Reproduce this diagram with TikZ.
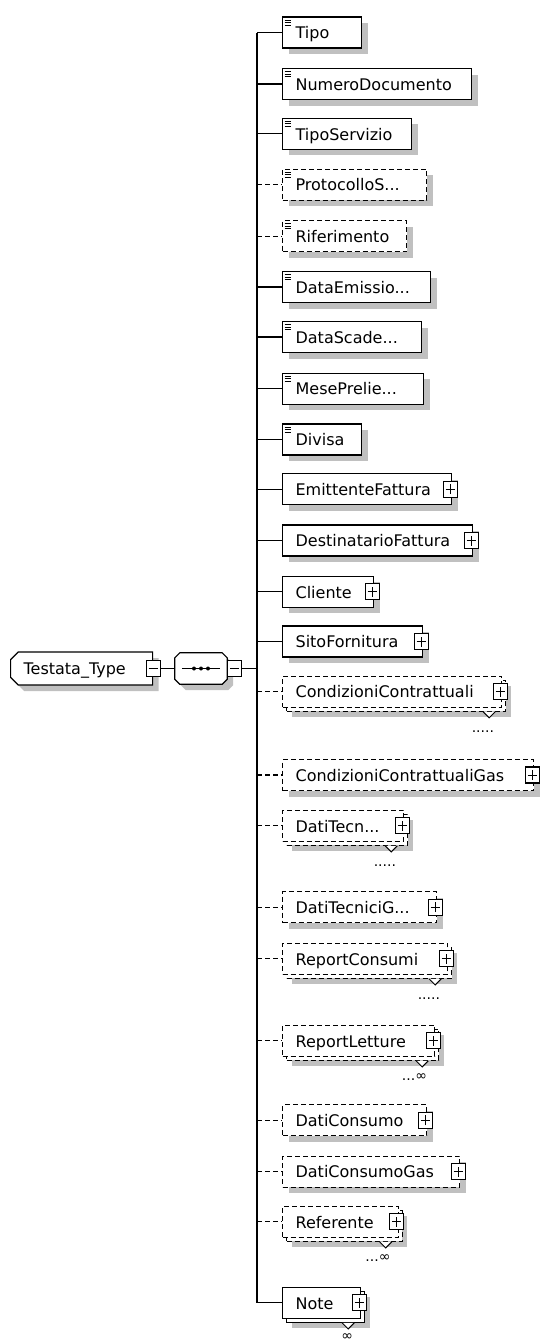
\documentclass[tikz,border=0pt]{standalone}
\usepackage{fontspec}
\setmainfont{DejaVu Sans}
\usepackage{tikz}
\usetikzlibrary{positioning, shapes, shadows}
\definecolor{ombra}{RGB}{192, 192, 192}
\definecolor{bordo}{RGB}{0, 0, 0}
\hyphenpenalty=10000
\tikzset{
    base/.style={draw=bordo, rectangle, fill=white, line width=1.2pt, anchor=west, minimum height=31pt, inner xsep=13pt, inner ysep=0pt, text height=13.5pt, text depth=1pt, align=left, font=\fontsize{16pt}{19pt}\selectfont},
    elem/.style={base, general shadow={fill=ombra, shadow xshift=6pt, shadow yshift=-6pt}},
    elemMulti/.style={base, general shadow={fill=ombra, shadow xshift=9pt, shadow yshift=-10pt}, general shadow={draw=bordo, fill=white, shadow xshift=4pt, shadow yshift=-4pt}},
    opz/.style={dash pattern=on 5pt off 3pt},
    semplice/.style={path picture={\draw [solid, line width=0.9pt, bordo] ([shift={(2,3)}]path picture bounding box.north west) -- ++(6,0) ([shift={(2,5.5)}]path picture bounding box.north west) -- ++(6,0) ([shift={(2,8)}]path picture bounding box.north west) -- ++(6,0);}},
    radice/.style={draw=bordo, chamfered rectangle, chamfered rectangle corners={north west, south west}, chamfered rectangle xsep=4pt, fill=white, line width=1.2pt, anchor=west, minimum height=33pt, inner xsep=9pt, inner ysep=0pt, text width=116pt, text height=13.5pt, text depth=1pt, align=left, font=\fontsize{16pt}{19pt}\selectfont, general shadow={fill=ombra, shadow xshift=6pt, shadow yshift=-6pt}},
    sequenza/.style={rectangle, minimum width=52pt, minimum height=31pt, inner sep=0pt},
    ottagono/.style={draw=bordo, fill=white, line width=1.2pt, general shadow={fill=ombra, shadow xshift=6pt, shadow yshift=-6pt}},
    meno/.style={draw=bordo, rectangle, solid, fill=white, line width=1.2pt, minimum width=14pt, minimum height=16pt, inner sep=0pt,
        path picture={\draw [line width=1pt] ([xshift=-4.5pt]path picture bounding box.center) -- ([xshift=4.5pt]path picture bounding box.center);}},
    piu/.style={draw=bordo, rectangle, solid, fill=white, line width=1.2pt, minimum width=14pt, minimum height=16pt, inner sep=0pt,
        path picture={\draw [line width=1pt] ([xshift=-4.5pt]path picture bounding box.center) -- ([xshift=4.5pt]path picture bounding box.center) ([yshift=-5pt]path picture bounding box.center) -- ([yshift=5pt]path picture bounding box.center);}},
    occ/.style={inner sep=0pt, anchor=base east, font=\fontsize{14pt}{16pt}\selectfont},
    tacca/.style={draw=bordo, fill=white, line width=1pt},
    conn/.style={-, bordo, line width=1.2pt},
}
\begin{document}
\begin{tikzpicture}[x=1pt, y=-1pt]
    \useasboundingbox (0,0) rectangle (541,1344);

    \node [radice] (testata) at (10,668.5) {Testata\_Type};
    \node [meno] (testataMeno) at (testata.east) {};
    \node [sequenza] (seq) at (201,668.5) {};
    \draw [ottagono] ([xshift=5pt]seq.north west) -- ([xshift=-5pt]seq.north east) -- ([yshift=-5pt]seq.north east) -- ([yshift=5pt]seq.south east) -- ([xshift=-5pt]seq.south east) -- ([xshift=5pt]seq.south west) -- ([yshift=5pt]seq.south west) -- ([yshift=-5pt]seq.north west) -- cycle;
    \draw [line width=1pt] ([xshift=7pt]seq.west) -- ([xshift=-7pt]seq.east);
    \fill ([xshift=-7pt]seq.center) circle (2pt);
    \fill (seq.center) circle (2pt);
    \fill ([xshift=7pt]seq.center) circle (2pt);
    \node [meno, anchor=west] (seqMeno) at (seq.east) {};

    \coordinate (alto) at (257,32.5);
    \coordinate (basso) at (257,1302.8);

    \node [elem, semplice, text width=53pt] (tipo) at (282,32.5) {Tipo};
    \node [elem, semplice, text width=163pt] (numeroDoc) at (282,84) {NumeroDocumento};
    \node [elem, semplice, text width=103pt] (tipoServ) at (282,133.8) {TipoServizio};
    \node [elem, semplice, opz, text width=118pt] (protocollo) at (282,184.7) {ProtocolloS...};
    \node [elem, semplice, opz, text width=98pt] (riferimento) at (282,236.2) {Riferimento};
    \node [elem, semplice, text width=122pt] (dataEmis) at (282,287) {DataEmissio...};
    \node [elem, semplice, text width=113pt] (dataScad) at (282,337) {DataScade...};
    \node [elem, semplice, text width=115pt] (mesePrel) at (282,388.7) {MesePrelie...};
    \node [elem, semplice, text width=53pt] (divisa) at (282,439.5) {Divisa};
    \node [elem, text width=143pt] (emittente) at (282,489.2) {EmittenteFattura};
    \node [elem, text width=164pt] (destinatario) at (282,540.5) {DestinatarioFattura};
    \node [elem, text width=65pt] (cliente) at (282,591.8) {Cliente};
    \node [elem, text width=114pt] (sito) at (282,641.5) {SitoFornitura};
    \node [elemMulti, opz, text width=193pt] (condContr) at (282,691.7) {CondizioniContrattuali};
    \node [elem, opz, text width=225pt] (condContrGas) at (282,775) {CondizioniContrattualiGas};
    \node [elemMulti, opz, text width=95pt] (datiTecn) at (282,825.8) {DatiTecn...};
    \node [elem, opz, text width=128pt] (datiTecG) at (282,907.2) {DatiTecniciG...};
    \node [elemMulti, opz, text width=139pt] (reportCons) at (282,958.8) {ReportConsumi};
    \node [elemMulti, opz, text width=126pt] (reportLett) at (282,1040.8) {ReportLetture};
    \node [elem, opz, text width=118pt] (datiCons) at (282,1120.3) {DatiConsumo};
    \node [elem, opz, text width=151pt] (datiConsGas) at (282,1171.7) {DatiConsumoGas};
    \node [elemMulti, opz, text width=89.5pt] (referente) at (282,1221.8) {Referente};
    \node [elemMulti, text width=52pt] (note) at (282,1302.8) {Note};

    \node [piu] (emittentePiu) at ([xshift=-2pt]emittente.east) {};
    \node [piu] (destinatarioPiu) at ([xshift=-2pt]destinatario.east) {};
    \node [piu] (clientePiu) at ([xshift=-2pt]cliente.east) {};
    \node [piu] (sitoPiu) at ([xshift=-2pt]sito.east) {};
    \node [piu] (condContrPiu) at ([xshift=-2pt]condContr.east) {};
    \node [piu] (condContrGasPiu) at ([xshift=-2pt]condContrGas.east) {};
    \node [piu] (datiTecnPiu) at ([xshift=-2pt]datiTecn.east) {};
    \node [piu] (datiTecGPiu) at ([xshift=-2pt]datiTecG.east) {};
    \node [piu] (reportConsPiu) at ([xshift=-2pt]reportCons.east) {};
    \node [piu] (reportLettPiu) at ([xshift=-2pt]reportLett.east) {};
    \node [piu] (datiConsPiu) at ([xshift=-2pt]datiCons.east) {};
    \node [piu] (datiConsGasPiu) at ([xshift=-2pt]datiConsGas.east) {};
    \node [piu] (referentePiu) at ([xshift=-2pt]referente.east) {};
    \node [piu] (notePiu) at ([xshift=-2pt]note.east) {};

    \draw [tacca] ([shift={(-19,4)}]condContr.south east) -- ([shift={(-13,10)}]condContr.south east) -- ([shift={(-7,4)}]condContr.south east);
    \draw [tacca] ([shift={(-19,4)}]datiTecn.south east) -- ([shift={(-13,10)}]datiTecn.south east) -- ([shift={(-7,4)}]datiTecn.south east);
    \draw [tacca] ([shift={(-19,4)}]reportCons.south east) -- ([shift={(-13,10)}]reportCons.south east) -- ([shift={(-7,4)}]reportCons.south east);
    \draw [tacca] ([shift={(-19,4)}]reportLett.south east) -- ([shift={(-13,10)}]reportLett.south east) -- ([shift={(-7,4)}]reportLett.south east);
    \draw [tacca] ([shift={(-19,4)}]referente.south east) -- ([shift={(-13,10)}]referente.south east) -- ([shift={(-7,4)}]referente.south east);
    \draw [tacca] ([shift={(-19,4)}]note.south east) -- ([shift={(-13,10)}]note.south east) -- ([shift={(-7,4)}]note.south east);

    \node [occ] (condContrOcc) at ([shift={(-8,25)}]condContr.south east) {.....};
    \node [occ] (datiTecnOcc) at ([shift={(-8,25)}]datiTecn.south east) {.....};
    \node [occ] (reportConsOcc) at ([shift={(-8,25)}]reportCons.south east) {.....};
    \node [occ] (reportLettOcc) at ([shift={(-8,24)}]reportLett.south east) {...∞};
    \node [occ] (referenteOcc) at ([shift={(-8,24)}]referente.south east) {...∞};
    \node [occ] (noteOcc) at ([shift={(-8,22)}]note.south east) {∞};

    \draw [conn] (testataMeno.east) -- (seq.west);
    \draw [conn] (seqMeno.east) -- (alto |- seqMeno.east);
    \draw [conn] (alto) -- (basso);

    \draw [conn] (alto |- tipo.west) -- (tipo.west);
    \draw [conn] (alto |- numeroDoc.west) -- (numeroDoc.west);
    \draw [conn] (alto |- tipoServ.west) -- (tipoServ.west);
    \draw [conn, opz] (alto |- protocollo.west) -- (protocollo.west);
    \draw [conn, opz] (alto |- riferimento.west) -- (riferimento.west);
    \draw [conn] (alto |- dataEmis.west) -- (dataEmis.west);
    \draw [conn] (alto |- dataScad.west) -- (dataScad.west);
    \draw [conn] (alto |- mesePrel.west) -- (mesePrel.west);
    \draw [conn] (alto |- divisa.west) -- (divisa.west);
    \draw [conn] (alto |- emittente.west) -- (emittente.west);
    \draw [conn] (alto |- destinatario.west) -- (destinatario.west);
    \draw [conn] (alto |- cliente.west) -- (cliente.west);
    \draw [conn] (alto |- sito.west) -- (sito.west);
    \draw [conn, opz] (alto |- condContr.west) -- (condContr.west);
    \draw [conn, opz] (alto |- condContrGas.west) -- (condContrGas.west);
    \draw [conn, opz] (alto |- datiTecn.west) -- (datiTecn.west);
    \draw [conn, opz] (alto |- datiTecG.west) -- (datiTecG.west);
    \draw [conn, opz] (alto |- reportCons.west) -- (reportCons.west);
    \draw [conn, opz] (alto |- reportLett.west) -- (reportLett.west);
    \draw [conn, opz] (alto |- datiCons.west) -- (datiCons.west);
    \draw [conn, opz] (alto |- datiConsGas.west) -- (datiConsGas.west);
    \draw [conn, opz] (alto |- referente.west) -- (referente.west);
    \draw [conn] (alto |- note.west) -- (note.west);
\end{tikzpicture}
\end{document}
